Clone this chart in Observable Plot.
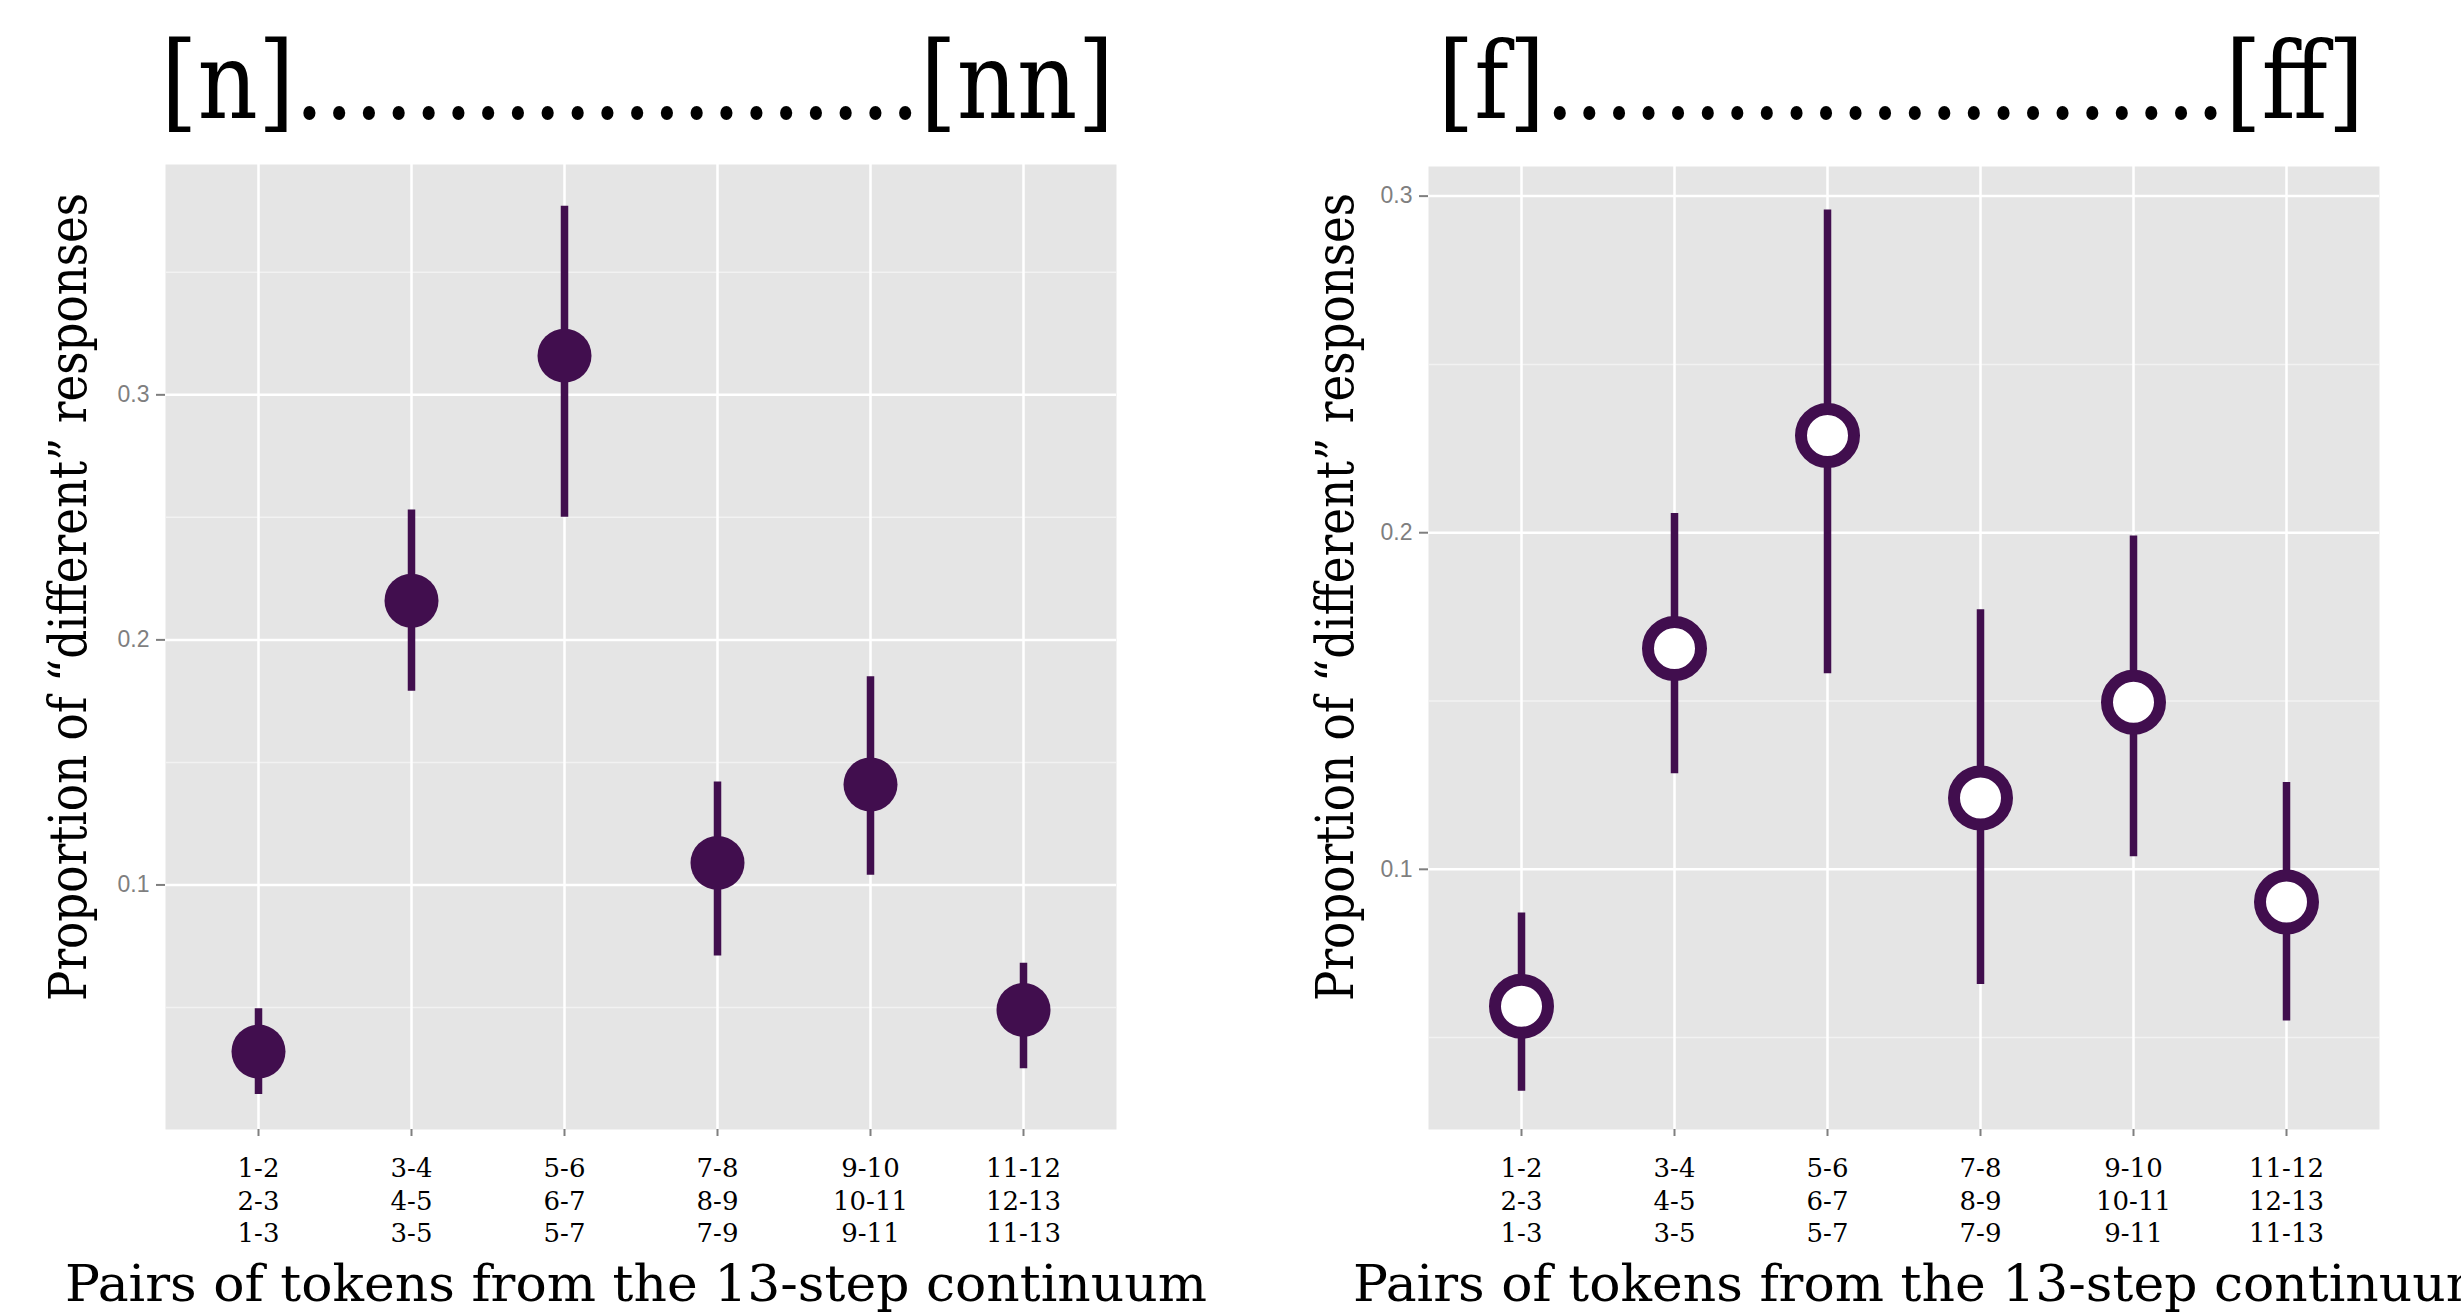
<!DOCTYPE html>
<html>
<head>
<meta charset="utf-8">
<script src="https://cdn.jsdelivr.net/npm/d3@7"></script>
<script src="https://cdn.jsdelivr.net/npm/@observablehq/plot@0.6"></script>
<style>
  html, body { margin: 0; padding: 0; background: #ffffff; overflow: hidden; }
  #wrap { position: relative; width: 2461px; height: 1315px; }
  #left, #right, #overlay { position: absolute; top: 0; }
  #left { left: 0; }
  #right { left: 1230px; }
  #overlay { left: 0; pointer-events: none; }
  svg { display: block; }
</style>
</head>
<body>
<div id="wrap">
  <div id="left"></div>
  <div id="right"></div>
  <svg id="overlay" width="2461" height="1315"></svg>
</div>
<script>
// ---- data ----
const pairs = ["1-2", "3-4", "5-6", "7-8", "9-10", "11-12"];
const pairLabels = ["1-2\n2-3\n1-3", "3-4\n4-5\n3-5", "5-6\n6-7\n5-7", "7-8\n8-9\n7-9", "9-10\n10-11\n9-11", "11-12\n12-13\n11-13"];

const nMean = [0.032, 0.216, 0.316, 0.109, 0.141, 0.049];
const nLow  = [0.0145, 0.179, 0.250, 0.071, 0.104, 0.025];
const nHigh = [0.0495, 0.253, 0.377, 0.142, 0.185, 0.068];

const fMean = [0.0593, 0.1656, 0.2289, 0.1212, 0.1496, 0.0903];
const fLow  = [0.0341, 0.1284, 0.1581, 0.0658, 0.1037, 0.0549];
const fHigh = [0.087, 0.2057, 0.2959, 0.1771, 0.199, 0.1258];

const majorTicks = [0.1, 0.2, 0.3];
const minorTicksN = [0.05, 0.15, 0.25, 0.35];
const minorTicksF = [0.05, 0.15, 0.25];

const titleN = "[n]" + ".".repeat(21) + "[nn]";
const titleF = "[f]" + ".".repeat(23) + "[ff]";
const yTitle = "Proportion of \u201cdifferent\u201d responses";
const xTitle = "Pairs of tokens from the 13-step continuum";

// ---- styling ----
const purple = "#410e4e";
const panelBg = "#e5e5e5";
const axisGrey = "#7f7f7f";

function rows(mean, low, high) {
  return pairs.map((p, i) => ({pair: p, label: pairLabels[i], mean: mean[i], low: low[i], high: high[i]}));
}

function panel({data, width, mLeft, mRight, mTop, mBottom, yDomain, minor, hollow}) {
  return Plot.plot({
    width, height: 1315,
    marginLeft: mLeft, marginRight: mRight, marginTop: mTop, marginBottom: mBottom,
    style: {background: "transparent", overflow: "visible"},
    x: {type: "point", domain: pairs, padding: 0.6, axis: null},
    y: {domain: yDomain, axis: null},
    marks: [
      Plot.frame({fill: panelBg, stroke: null}),
      Plot.gridY(minor, {stroke: "#f2f2f2", strokeOpacity: 1, strokeWidth: 1.5}),
      Plot.gridY(majorTicks, {stroke: "#ffffff", strokeOpacity: 1, strokeWidth: 2.5}),
      Plot.gridX(pairs, {stroke: "#ffffff", strokeOpacity: 1, strokeWidth: 2.5}),
      Plot.axisY(majorTicks, {
        tickSize: 9, tickPadding: 7, color: axisGrey, strokeWidth: 2,
        fontSize: 23, fontFamily: "Liberation Sans", tickFormat: d => d.toFixed(1), label: null
      }),
      Plot.axisX(pairs, {tickSize: 7, color: axisGrey, strokeWidth: 2, tickFormat: () => "", label: null}),
      Plot.text(data, {
        x: "pair", text: "label", frameAnchor: "bottom", dy: 25, lineAnchor: "top",
        lineHeight: 1.24, fontSize: 26, fontFamily: "DejaVu Serif", fill: "#000000"
      }),
      Plot.ruleX(data, {x: "pair", y1: "low", y2: "high", stroke: purple, strokeWidth: 7.5}),
      hollow
        ? Plot.dot(data, {x: "pair", y: "mean", r: 26.5, fill: "#ffffff", stroke: purple, strokeWidth: 12})
        : Plot.dot(data, {x: "pair", y: "mean", r: 27, fill: purple, stroke: null})
    ]
  });
}

document.getElementById("left").appendChild(panel({
  data: rows(nMean, nLow, nHigh), width: 1230,
  mLeft: 165, mRight: 114, mTop: 164, mBottom: 186,
  yDomain: [0.0002, 0.394], minor: minorTicksN, hollow: false
}));

document.getElementById("right").appendChild(panel({
  data: rows(fMean, fLow, fHigh), width: 1231,
  mLeft: 198, mRight: 82, mTop: 166, mBottom: 186,
  yDomain: [0.0227, 0.3088], minor: minorTicksF, hollow: true
}));

// ---- titles (real text) ----
const ov = d3.select("#overlay");
function addText(txt, x, y, size, len, anchor, rotate) {
  const t = ov.append("text")
    .attr("font-family", "DejaVu Serif")
    .attr("font-size", size)
    .attr("fill", "#000")
    .attr("text-anchor", anchor)
    .attr("textLength", len)
    .attr("lengthAdjust", "spacingAndGlyphs")
    .text(txt);
  if (rotate) t.attr("transform", `translate(${x},${y}) rotate(-90)`);
  else t.attr("x", x).attr("y", y);
  return t;
}
addText(titleN, 637.5, 118, 106, 953, "middle");
addText(titleF, 1901, 118, 106, 926, "middle");
addText(yTitle, 86, 597, 52, 808, "middle", true);
addText(yTitle, 1353, 597, 52, 808, "middle", true);
addText(xTitle, 65, 1301, 50, 1142, "start");
addText(xTitle, 1353, 1301, 50, 1142, "start");
</script>
</body>
</html>
